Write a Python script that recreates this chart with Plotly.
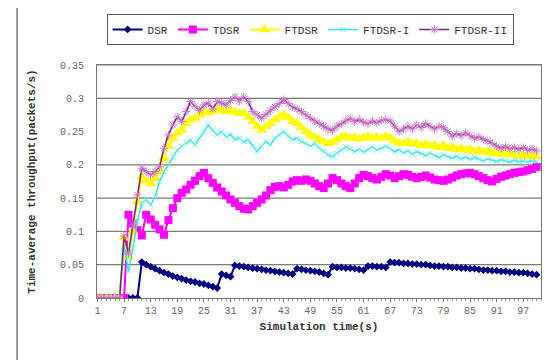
import plotly.graph_objects as go

x_vals = list(range(1, 101))

dsr = [0]*10 + [
    0.054, 0.050, 0.047, 0.044, 0.041, 0.038, 0.036, 0.033, 0.031, 0.029,
    0.027, 0.025, 0.024, 0.022, 0.021, 0.019, 0.017, 0.015, 0.036, 0.034,
    0.032, 0.049, 0.048, 0.047, 0.046, 0.045, 0.044, 0.043, 0.042, 0.041,
    0.040, 0.039, 0.038, 0.037, 0.036, 0.044, 0.043, 0.042, 0.041, 0.040,
    0.039, 0.037, 0.035, 0.047, 0.046, 0.046, 0.045, 0.045, 0.044, 0.043,
    0.042, 0.048, 0.048, 0.047, 0.047, 0.046, 0.054, 0.053, 0.053, 0.052,
    0.052, 0.051, 0.051, 0.050, 0.050, 0.049, 0.048, 0.048, 0.047, 0.047,
    0.046, 0.046, 0.045, 0.045, 0.044, 0.044, 0.043, 0.042, 0.042, 0.041,
    0.041, 0.040, 0.040, 0.039, 0.039, 0.038, 0.038, 0.037, 0.036, 0.035]

tdsr = [0]*7 + [
    0.125, 0.112, 0.102, 0.094, 0.125, 0.118, 0.110, 0.103, 0.095, 0.117,
    0.135, 0.150, 0.158, 0.163, 0.170, 0.176, 0.183, 0.188, 0.180, 0.173,
    0.166, 0.160, 0.154, 0.148, 0.143, 0.138, 0.134, 0.133, 0.138, 0.143,
    0.148, 0.154, 0.162, 0.167, 0.168, 0.166, 0.170, 0.175, 0.177, 0.176,
    0.178, 0.176, 0.172, 0.168, 0.165, 0.172, 0.180, 0.177, 0.172, 0.168,
    0.165, 0.172, 0.180, 0.185, 0.183, 0.180, 0.178, 0.182, 0.186, 0.184,
    0.180, 0.183, 0.186, 0.185, 0.182, 0.180, 0.182, 0.184, 0.181, 0.178,
    0.177, 0.176, 0.178, 0.181, 0.184, 0.186, 0.187, 0.188, 0.186, 0.183,
    0.180, 0.177, 0.175, 0.179, 0.182, 0.184, 0.186, 0.188, 0.189, 0.190,
    0.192, 0.194, 0.197]

ftdsr = [0]*6 + [
    0.090, 0.062, 0.100, 0.145, 0.182, 0.176, 0.172, 0.180, 0.190, 0.210,
    0.228, 0.240, 0.248, 0.252, 0.262, 0.268, 0.270, 0.275, 0.280, 0.278,
    0.281, 0.283, 0.282, 0.280, 0.282, 0.279, 0.277, 0.278, 0.272, 0.265,
    0.258, 0.252, 0.258, 0.262, 0.268, 0.272, 0.276, 0.271, 0.265, 0.262,
    0.256, 0.250, 0.245, 0.242, 0.238, 0.235, 0.232, 0.234, 0.238, 0.242,
    0.243, 0.240, 0.242, 0.239, 0.241, 0.243, 0.240, 0.242, 0.240, 0.243,
    0.241, 0.236, 0.233, 0.232, 0.235, 0.231, 0.233, 0.229, 0.231, 0.228,
    0.230, 0.226, 0.229, 0.225, 0.227, 0.223, 0.225, 0.222, 0.224, 0.220,
    0.222, 0.219, 0.221, 0.217, 0.219, 0.216, 0.218, 0.215, 0.216, 0.213,
    0.215, 0.212, 0.214, 0.212]

ftdsr_1 = [0]*6 + [
    0.078, 0.040, 0.075, 0.115, 0.142, 0.148, 0.140, 0.152, 0.175, 0.190,
    0.200, 0.212, 0.222, 0.228, 0.233, 0.237, 0.230, 0.240, 0.250, 0.260,
    0.252, 0.245, 0.250, 0.242, 0.246, 0.238, 0.240, 0.235, 0.238, 0.228,
    0.220, 0.228, 0.235, 0.230, 0.240, 0.245, 0.250, 0.243, 0.238, 0.240,
    0.235, 0.232, 0.228, 0.232, 0.225, 0.220, 0.215, 0.212, 0.218, 0.222,
    0.227, 0.224, 0.220, 0.224, 0.219, 0.223, 0.227, 0.222, 0.225, 0.228,
    0.224, 0.220, 0.223, 0.218, 0.221, 0.216, 0.220, 0.217, 0.214, 0.218,
    0.214, 0.211, 0.215, 0.212, 0.210, 0.213, 0.209, 0.212, 0.208, 0.211,
    0.209, 0.206, 0.209, 0.207, 0.205, 0.208, 0.206, 0.204, 0.207, 0.205,
    0.206, 0.204, 0.206, 0.205]

ftdsr_2 = [0]*6 + [
    0.093, 0.067, 0.110, 0.155, 0.195, 0.190, 0.185, 0.190, 0.197, 0.225,
    0.245, 0.260, 0.272, 0.265, 0.280, 0.295, 0.288, 0.282, 0.290, 0.293,
    0.284, 0.295, 0.293, 0.290, 0.297, 0.302, 0.296, 0.302, 0.295, 0.280,
    0.275, 0.270, 0.276, 0.282, 0.287, 0.292, 0.298, 0.292, 0.287, 0.284,
    0.280, 0.275, 0.270, 0.266, 0.262, 0.258, 0.254, 0.252, 0.258, 0.262,
    0.266, 0.270, 0.265, 0.268, 0.264, 0.262, 0.266, 0.263, 0.267, 0.268,
    0.266, 0.258, 0.250, 0.254, 0.258, 0.254, 0.260, 0.256, 0.262, 0.258,
    0.254, 0.258, 0.256, 0.250, 0.243, 0.247, 0.244, 0.248, 0.244, 0.240,
    0.242, 0.238, 0.236, 0.232, 0.228, 0.225, 0.227, 0.224, 0.226, 0.223,
    0.226, 0.222, 0.224, 0.221]

series_names = ["DSR", "TDSR", "FTDSR", "FTDSR-I", "FTDSR-II"]
x_tick_vals = list(range(1, 101, 6))
y_tick_vals = [0, 0.05, 0.1, 0.15, 0.2, 0.25, 0.3, 0.35]
y_tick_text = ["0", "0.05", "0.1", "0.15", "0.2", "0.25", "0.3", "0.35"]
grid_vals = [0.05, 0.1, 0.15, 0.2, 0.3, 0.35]

fig = go.Figure()
fig.add_trace(go.Scatter(x=x_vals, y=dsr, name=series_names[0], mode="lines+markers",
                         line=dict(color="#000080", width=2),
                         marker=dict(symbol="diamond", size=6, color="#000080")))
fig.add_trace(go.Scatter(x=x_vals, y=tdsr, name=series_names[1], mode="lines+markers",
                         line=dict(color="#FF00FF", width=2),
                         marker=dict(symbol="square", size=8, color="#FF00FF")))
fig.add_trace(go.Scatter(x=x_vals, y=ftdsr, name=series_names[2], mode="lines+markers",
                         line=dict(color="#FFFF00", width=2),
                         marker=dict(symbol="triangle-up", size=10, color="#FFFF00")))
fig.add_trace(go.Scatter(x=x_vals, y=ftdsr_1, name=series_names[3], mode="lines+markers",
                         line=dict(color="#33E6E6", width=1.5),
                         marker=dict(symbol="x-thin-open", size=5, color="#66F0F0",
                                     line=dict(width=1, color="#66F0F0"))))
fig.add_trace(go.Scatter(x=x_vals, y=ftdsr_2, name=series_names[4], mode="lines+markers",
                         line=dict(color="#7A2A7A", width=1.6),
                         marker=dict(symbol="asterisk-open", size=7, color="#CC77CC",
                                     line=dict(width=1, color="#CC77CC"))))

shapes = []
for g in grid_vals:
    shapes.append(dict(type="line", xref="paper", yref="y", x0=0, x1=1, y0=g, y1=g,
                       line=dict(color="#7a7a7a", width=1.2), layer="below"))
shapes.append(dict(type="line", xref="paper", yref="paper", x0=-0.18, x1=-0.18, y0=-0.4, y1=1.3,
                   line=dict(color="#333333", width=1)))
shapes.append(dict(type="line", xref="paper", yref="paper", x0=1.036, x1=1.036, y0=-0.4, y1=1.3,
                   line=dict(color="#cccccc", width=1)))

fig.update_layout(
    width=558, height=360,
    margin=dict(l=89, r=25, t=57, b=70, autoexpand=False),
    paper_bgcolor="white", plot_bgcolor="white",
    font=dict(family="Liberation Mono", size=10, color="#555555"),
    showlegend=True,
    legend=dict(orientation="h", x=0.48, xanchor="center", y=1.219, yanchor="top",
                bordercolor="#555555", borderwidth=1, itemwidth=30,
                font=dict(family="Liberation Mono", size=11, color="#333333"),
                tracegroupgap=0),
    shapes=shapes,
    xaxis=dict(range=[0.9, 101], tickmode="array", tickvals=x_tick_vals,
               showgrid=False, zeroline=False, showline=True, linecolor="#777777",
               linewidth=1, mirror=True, ticks="outside", ticklen=3, tickcolor="#777777",
               minor=dict(dtick=1, ticks="outside", ticklen=2, tickcolor="#999999"),
               tickfont=dict(size=10, color="#666666"),
               title=dict(text="<b>Simulation time(s)</b>", standoff=6,
                          font=dict(size=11, color="#333333"))),
    yaxis=dict(range=[0, 0.35], tickmode="array", tickvals=y_tick_vals, ticktext=y_tick_text,
               showgrid=False, zeroline=False, showline=True, linecolor="#777777",
               linewidth=1, mirror=True, ticks="", ticklabelstandoff=10,
               tickfont=dict(size=10, color="#666666"),
               title=dict(text="<b>Time-average throughput(packets/s)</b>", standoff=22,
                          font=dict(size=11, color="#333333"))),
)

fig.write_html("out.html")
